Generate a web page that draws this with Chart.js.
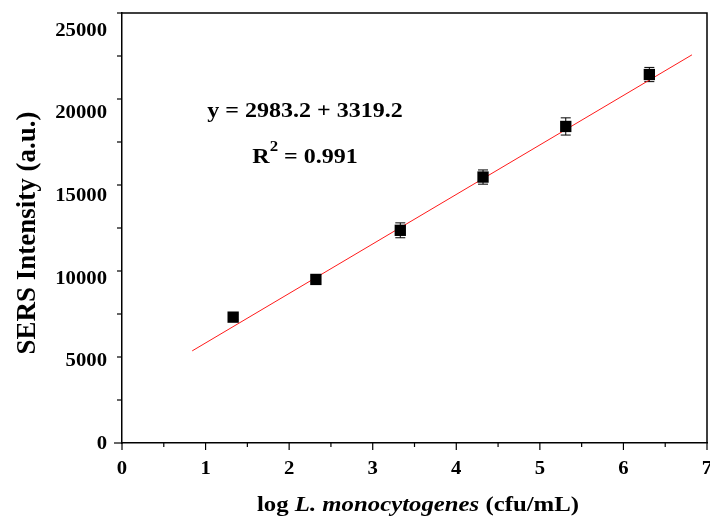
<!DOCTYPE html>
<html lang="en">
  <head>
    <meta charset="UTF-8" />
    <title>SERS calibration curve</title>
    <script src="https://cdn.jsdelivr.net/npm/chart.js"></script>
    <style>
      html, body { margin: 0; padding: 0; background: #fff; }
      #wrap { width: 710px; height: 517px; }
    </style>
  </head>
  <body>
    <div id="wrap"><canvas id="sersChart"></canvas></div>

    <script>
      const logConc = [1.33, 2.32, 3.33, 4.32, 5.31, 6.31];
      const intensity = [7610, 9890, 12860, 16080, 19140, 22280];
      const errors = [150, 200, 450, 430, 520, 430];

      // ends of the fitted red line
      const fitX = [0.84, 6.82];
      const fitY = [5570, 23470];

      // axis tick labels
      const xTickLabels = ["0", "1", "2", "3", "4", "5", "6", "7"];
      const yTickLabels = ["0", "5000", "10000", "15000", "20000", "25000"];

      const equationText = "y = 2983.2 + 3319.2";
      const r2Value = " = 0.991";

      const SERIF = "'Liberation Serif', 'Times New Roman', serif";

      // text drawn a bit wider, like the original figure
      function stretchedText(ctx, text, x, y, font, sx, align) {
        ctx.save();
        ctx.font = font;
        ctx.translate(x, y);
        ctx.scale(sx, 1);
        ctx.textAlign = align || "center";
        ctx.textBaseline = "alphabetic";
        ctx.fillText(text, 0, 0);
        ctx.restore();
      }

      const decorations = {
        id: "decorations",
        afterLayout(chart) {
          // pin the plot box to where it sits in the figure
          const a = chart.chartArea;
          a.right = 707;
          a.width = a.right - a.left;
          chart.scales.x.right = 707;
          chart.scales.x.width = 707 - chart.scales.x.left;
          chart.scales.x.configure();
        },
        beforeDatasetsDraw(chart) {
          const { ctx, scales } = chart;
          ctx.save();
          ctx.strokeStyle = "#000";
          ctx.lineWidth = 1;
          logConc.forEach((v, i) => {
            const px = scales.x.getPixelForValue(v);
            const top = scales.y.getPixelForValue(intensity[i] + errors[i]);
            const bot = scales.y.getPixelForValue(intensity[i] - errors[i]);
            ctx.beginPath();
            ctx.moveTo(px, top);
            ctx.lineTo(px, bot);
            ctx.moveTo(px - 5, top);
            ctx.lineTo(px + 5, top);
            ctx.moveTo(px - 5, bot);
            ctx.lineTo(px + 5, bot);
            ctx.stroke();
          });
          ctx.restore();
        },
        afterDraw(chart) {
          const { ctx, chartArea, scales } = chart;
          const { left, right, top, bottom } = chartArea;
          ctx.save();
          ctx.strokeStyle = "#000";
          ctx.fillStyle = "#000";
          ctx.lineWidth = 1.5;

          // top and right frame
          ctx.beginPath();
          ctx.moveTo(left, top);
          ctx.lineTo(right, top);
          ctx.lineTo(right, bottom);
          ctx.stroke();

          // tick marks, major longer than minor
          ctx.lineWidth = 1.2;
          scales.x.ticks.forEach((t) => {
            const px = scales.x.getPixelForValue(t.value);
            const len = Number.isInteger(t.value) ? 7 : 4;
            ctx.beginPath();
            ctx.moveTo(px, bottom);
            ctx.lineTo(px, bottom + len);
            ctx.stroke();
          });
          scales.y.ticks.forEach((t) => {
            const py = scales.y.getPixelForValue(t.value);
            const len = t.value % 5000 === 0 ? 8 : 5;
            ctx.beginPath();
            ctx.moveTo(left, py);
            ctx.lineTo(left - len, py);
            ctx.stroke();
          });

          // tick labels
          const tickFont = "bold 18px " + SERIF;
          xTickLabels.forEach((lab) => {
            const px = scales.x.getPixelForValue(Number(lab));
            stretchedText(ctx, lab, px, bottom + 31, tickFont, 1.15);
          });
          yTickLabels.forEach((lab) => {
            const py = scales.y.getPixelForValue(Number(lab));
            stretchedText(ctx, lab, left - 15, py + 6, tickFont, 1.15, "right");
          });

          // fit equation
          stretchedText(ctx, equationText, 305, 117, "bold 20px " + SERIF, 1.2);
          ctx.font = "bold 20px " + SERIF;
          const wR = ctx.measureText("R").width * 1.2;
          ctx.font = "bold 14px " + SERIF;
          const w2 = ctx.measureText("2").width * 1.2;
          ctx.font = "bold 20px " + SERIF;
          const wRest = ctx.measureText(r2Value).width * 1.2;
          let sx = 305 - (wR + w2 + wRest) / 2;
          stretchedText(ctx, "R", sx, 163, "bold 20px " + SERIF, 1.2, "left");
          stretchedText(ctx, "2", sx + wR, 151, "bold 14px " + SERIF, 1.2, "left");
          stretchedText(ctx, r2Value, sx + wR + w2, 163, "bold 20px " + SERIF, 1.2, "left");

          // x axis title with italic species name
          const parts = [
            ["log ", "bold 21px " + SERIF],
            ["L. monocytogenes", "italic bold 21px " + SERIF],
            [" (cfu/mL)", "bold 21px " + SERIF],
          ];
          const xs = 1.18;
          let total = 0;
          parts.forEach((p) => {
            ctx.font = p[1];
            total += ctx.measureText(p[0]).width * xs;
          });
          let cx = 418 - total / 2;
          parts.forEach((p) => {
            ctx.font = p[1];
            const w = ctx.measureText(p[0]).width * xs;
            stretchedText(ctx, p[0], cx, 511, p[1], xs, "left");
            cx += w;
          });

          // y axis title
          ctx.save();
          ctx.translate(35, 233);
          ctx.rotate(-Math.PI / 2);
          ctx.font = "bold 27px " + SERIF;
          ctx.textAlign = "center";
          ctx.textBaseline = "alphabetic";
          ctx.fillText("SERS Intensity (a.u.)", 0, 0);
          ctx.restore();

          ctx.restore();
        },
      };

      const ctx = document.getElementById("sersChart").getContext("2d");
      const sersChart = new Chart(ctx, {
        type: "scatter",
        data: {
          datasets: [
            {
              label: "fit",
              type: "line",
              data: fitX.map((x, i) => ({ x: x, y: fitY[i] })),
              borderColor: "#ff1a1a",
              borderWidth: 1,
              pointRadius: 0,
              fill: false,
              order: 2,
            },
            {
              label: "SERS",
              data: logConc.map((x, i) => ({ x: x, y: intensity[i] })),
              pointStyle: "rect",
              pointRadius: 8,
              pointHoverRadius: 8,
              backgroundColor: "#000",
              borderColor: "#000",
              borderWidth: 0,
              order: 1,
            },
          ],
        },
        options: {
          responsive: true,
          maintainAspectRatio: false,
          animation: false,
          layout: { padding: { top: 13, right: 3, left: 0, bottom: 0 } },
          plugins: {
            legend: { display: false },
            tooltip: { enabled: false },
          },
          scales: {
            x: {
              type: "linear",
              min: 0,
              max: 7,
              ticks: { stepSize: 0.5, display: false, includeBounds: false },
              grid: { display: false },
              border: { display: true, color: "#000", width: 1.5 },
              afterFit(scale) {
                scale.height = 74;
                scale.paddingLeft = 0;
                scale.paddingRight = 0;
              },
            },
            y: {
              type: "linear",
              min: 0,
              max: 26000,
              ticks: { stepSize: 2500, display: false, includeBounds: false },
              grid: { display: false },
              border: { display: true, color: "#000", width: 1.5 },
              afterFit(scale) {
                scale.width = 122;
                scale.paddingTop = 0;
                scale.paddingBottom = 0;
              },
            },
          },
        },
        plugins: [decorations],
      });
    </script>
  </body>
</html>
